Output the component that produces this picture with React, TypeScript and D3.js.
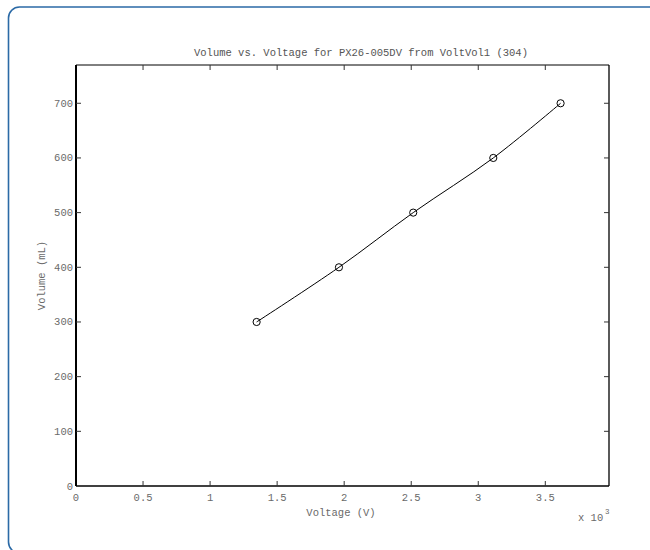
import React from "react";
import * as d3 from "d3";

const volumes = [300, 400, 500, 600, 700];
const voltages = [1347, 1961, 2515, 3112, 3614];
const xTicks = [0, 500, 1000, 1500, 2000, 2500, 3000, 3500];
const xTickLabels = ["0", "0.5", "1", "1.5", "2", "2.5", "3", "3.5"];
const yTicks = [0, 100, 200, 300, 400, 500, 600, 700];
const title = "Volume vs. Voltage for PX26-005DV from VoltVol1 (304)";
const xLabel = "Voltage (V)";
const yLabel = "Volume (mL)";

export default function App() {
  const W = 650, H = 550;
  const left = 76, right = 609, top = 65, bottom = 486;
  const x = d3.scaleLinear().domain([0, 3975]).range([left, right]);
  const y = d3.scaleLinear().domain([0, 770]).range([bottom, top]);
  const pts = voltages.map((v, i) => [v, volumes[i]] as [number, number]);
  const line = d3
    .line<[number, number]>()
    .x((d) => x(d[0]))
    .y((d) => y(d[1]))
    .curve(d3.curveCatmullRom.alpha(0.5));
  const font = "'Courier New', 'Liberation Mono', monospace";
  const tc = "#6a6a6a";
  return (
    <svg
      width={W}
      height={H}
      style={{ position: "absolute", left: 0, top: 0, background: "#fff" }}
    >
      <rect x={8.5} y={7} width={700} height={546} rx={11} fill="#fff" stroke="#2b6aa6" strokeWidth={1.6} />
      <text x={361} y={56} textAnchor="middle" fontFamily={font} fontSize={10.5} fill="#555">
        {title}
      </text>
      <line x1={left} x2={right} y1={top} y2={top} stroke="#000" strokeWidth={1} />
      <line x1={right} x2={right} y1={top} y2={bottom} stroke="#000" strokeWidth={1.3} />
      <line x1={left} x2={right} y1={bottom} y2={bottom} stroke="#000" strokeWidth={1.5} />
      <line x1={left} x2={left} y1={top} y2={bottom} stroke="#000" strokeWidth={2} />
      {xTicks.map((t, i) => (
        <g key={"x" + t}>
          {t > 0 && (
            <>
              <line x1={x(t)} x2={x(t)} y1={bottom} y2={bottom - 5} stroke="#333" />
              <line x1={x(t)} x2={x(t)} y1={top} y2={top + 5} stroke="#333" />
            </>
          )}
          <text x={x(t)} y={501} textAnchor="middle" fontFamily={font} fontSize={10.5} fill={tc}>
            {xTickLabels[i]}
          </text>
        </g>
      ))}
      {yTicks.map((t) => (
        <g key={"y" + t}>
          {t > 0 && (
            <>
              <line x1={left} x2={left + 5} y1={y(t)} y2={y(t)} stroke="#333" />
              <line x1={right} x2={right - 5} y1={y(t)} y2={y(t)} stroke="#333" />
            </>
          )}
          <text x={73} y={y(t) + 3.5} textAnchor="end" fontFamily={font} fontSize={10.5} fill={tc}>
            {t}
          </text>
        </g>
      ))}
      <text x={341} y={516} textAnchor="middle" fontFamily={font} fontSize={10.5} fill={tc}>
        {xLabel}
      </text>
      <text
        transform={`translate(45,${(top + bottom) / 2}) rotate(-90)`}
        textAnchor="middle"
        fontFamily={font}
        fontSize={10.5}
        fill={tc}
      >
        {yLabel}
      </text>
      <text x={578} y={521} fontFamily={font} fontSize={10.5} fill={tc}>
        x 10
      </text>
      <text x={605} y={514} fontFamily={font} fontSize={7.5} fill={tc}>
        3
      </text>
      <path d={line(pts) || ""} fill="none" stroke="#000" strokeWidth={1} />
      {pts.map((p, i) => (
        <circle key={i} cx={x(p[0])} cy={y(p[1])} r={3.6} fill="none" stroke="#000" strokeWidth={1} />
      ))}
    </svg>
  );
}
